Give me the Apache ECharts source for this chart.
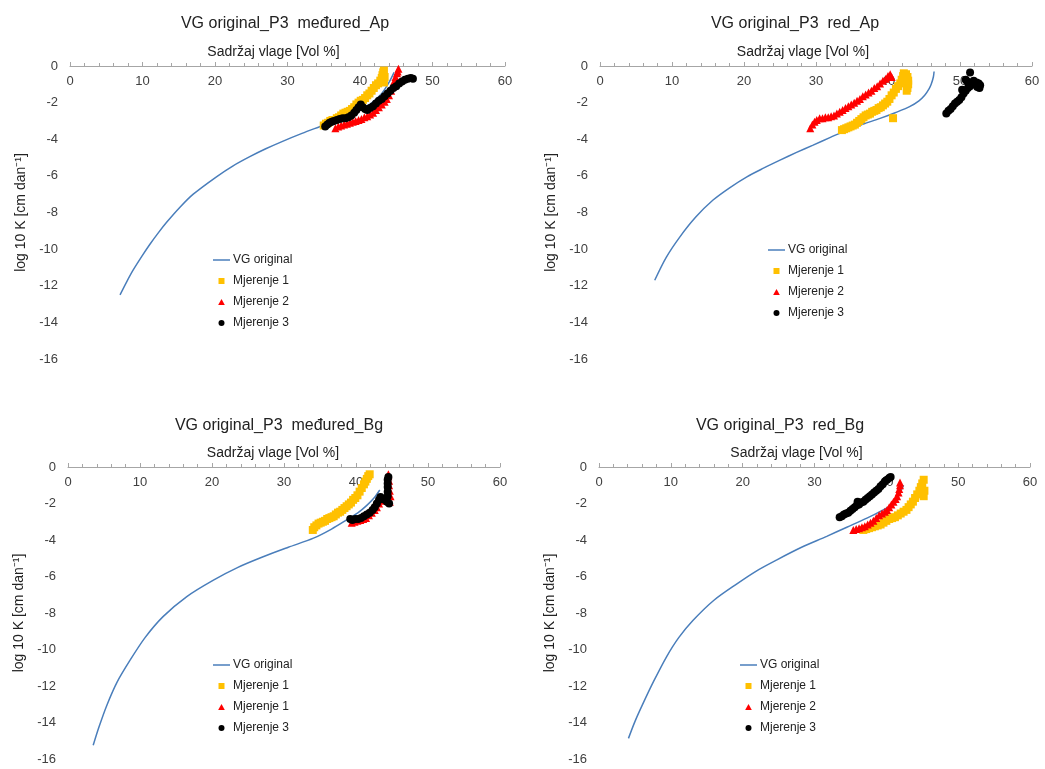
<!DOCTYPE html>
<html>
<head>
<meta charset="utf-8">
<script src="https://cdn.jsdelivr.net/npm/echarts@6/dist/echarts.min.js"></script>
<style>html,body{margin:0;padding:0;background:#fff;}#c{width:1045px;height:769px;}</style>
</head>
<body>
<div id="c"></div>
<script>
// ---- axis ranges / ticks ----
const xMin = 0, xMax = 60, xStep = 10;
const yMin = -16, yMax = 0, yStep = 2;

// ---- titles ----
const panelTitles = ['VG original_P3  međured_Ap', 'VG original_P3  red_Ap', 'VG original_P3  međured_Bg', 'VG original_P3  red_Bg'];
const xName = 'Sadržaj vlage [Vol %]';
const yName = 'log 10 K [cm dan⁻¹]';
const legendLabels = [
  ['VG original', 'Mjerenje 1', 'Mjerenje 2', 'Mjerenje 3'],
  ['VG original', 'Mjerenje 1', 'Mjerenje 2', 'Mjerenje 3'],
  ['VG original', 'Mjerenje 1', 'Mjerenje 1', 'Mjerenje 3'],
  ['VG original', 'Mjerenje 1', 'Mjerenje 2', 'Mjerenje 3']
];

// ---- Panel A: međured_Ap ----
const vgA = [[6.9,-12.5],[7.8,-11.8],[8.7,-11.15],[9.9,-10.4],[11.0,-9.75],[12.2,-9.1],[13.3,-8.55],[15.2,-7.7],[17.0,-7.0],[20.2,-6.05],[22.5,-5.45],[24.8,-4.95],[27.0,-4.52],[29.4,-4.1],[32.0,-3.68],[34.5,-3.3],[37.0,-2.92],[39.5,-2.5],[41.5,-2.05],[43.0,-1.5],[44.0,-0.9],[44.7,-0.35]];
const mA1 = [[35.0,-3.25],[35.3,-3.15],[35.6,-3.1],[35.9,-3.0],[36.2,-2.95],[36.5,-2.95],[36.8,-2.85],[37.1,-2.8],[37.4,-2.7],[37.7,-2.6],[38.0,-2.55],[38.3,-2.5],[38.6,-2.45],[38.9,-2.35],[39.2,-2.25],[39.5,-2.1],[39.8,-2.0],[40.1,-1.9],[40.4,-1.85],[40.7,-1.75],[41.0,-1.6],[41.3,-1.5],[41.6,-1.35],[41.9,-1.2],[42.2,-1.05],[42.5,-0.95],[42.8,-0.8],[43.0,-0.65],[43.1,-0.5],[43.2,-0.35],[43.3,-0.25],[43.4,-0.6],[43.3,-0.9]];
const mA2 = [[36.6,-3.4],[37.0,-3.3],[37.4,-3.25],[37.8,-3.2],[38.2,-3.15],[38.6,-3.1],[39.0,-3.05],[39.4,-3.0],[39.8,-2.95],[40.2,-2.9],[40.6,-2.8],[41.0,-2.75],[41.4,-2.65],[41.8,-2.55],[42.2,-2.4],[42.6,-2.25],[43.0,-2.1],[43.4,-1.95],[43.7,-1.8],[44.0,-1.6],[44.3,-1.35],[44.5,-1.1],[44.7,-0.85],[44.9,-0.6],[45.1,-0.4],[45.3,-0.15],[45.2,-0.3]];
const mA3 = [[35.2,-3.3],[35.5,-3.2],[35.8,-3.1],[36.1,-3.05],[36.4,-3.0],[36.8,-2.95],[37.2,-2.9],[37.6,-2.85],[38.0,-2.85],[38.4,-2.8],[38.8,-2.7],[39.2,-2.55],[39.5,-2.4],[39.8,-2.25],[40.1,-2.1],[40.4,-2.25],[40.7,-2.35],[41.0,-2.4],[41.4,-2.3],[41.8,-2.2],[42.2,-2.05],[42.6,-1.9],[43.0,-1.8],[43.4,-1.65],[43.8,-1.5],[44.2,-1.35],[44.6,-1.2],[45.0,-1.1],[45.4,-0.95],[45.8,-0.85],[46.2,-0.75],[46.6,-0.7],[47.0,-0.65],[47.3,-0.7]];

// ---- Panel B: red_Ap ----
const vgB = [[7.6,-11.7],[9.2,-10.45],[11.1,-9.33],[13.3,-8.25],[15.7,-7.32],[18.0,-6.65],[20.4,-6.05],[22.7,-5.58],[25.0,-5.14],[27.3,-4.72],[29.6,-4.32],[32.0,-3.9],[34.3,-3.5],[36.6,-3.17],[38.9,-2.86],[41.0,-2.55],[43.0,-2.22],[44.3,-1.9],[45.1,-1.6],[45.7,-1.25],[46.0,-1.0],[46.3,-0.6],[46.4,-0.3]];
const mB1 = [[33.6,-3.5],[33.9,-3.45],[34.2,-3.4],[34.5,-3.35],[34.8,-3.3],[35.1,-3.25],[35.4,-3.2],[35.7,-3.1],[36.0,-3.0],[36.3,-2.9],[36.6,-2.8],[36.9,-2.7],[37.2,-2.65],[37.5,-2.6],[37.8,-2.5],[38.1,-2.45],[38.4,-2.4],[38.7,-2.3],[39.0,-2.25],[39.3,-2.15],[39.6,-2.05],[39.9,-1.95],[40.2,-1.8],[40.5,-1.6],[40.8,-1.45],[41.1,-1.25],[41.4,-1.1],[41.7,-0.95],[41.9,-0.75],[42.1,-0.55],[42.2,-0.4],[42.5,-0.45],[42.7,-0.6],[42.8,-0.8],[42.8,-1.0],[42.7,-1.2],[42.6,-1.35],[40.7,-2.85]];
const mB2 = [[29.2,-3.4],[29.5,-3.2],[29.8,-3.05],[30.1,-2.95],[30.5,-2.85],[30.9,-2.85],[31.3,-2.8],[31.7,-2.8],[32.1,-2.75],[32.5,-2.7],[32.9,-2.6],[33.3,-2.5],[33.7,-2.4],[34.1,-2.3],[34.5,-2.2],[34.9,-2.1],[35.3,-2.0],[35.7,-1.9],[36.1,-1.8],[36.5,-1.65],[36.9,-1.55],[37.3,-1.45],[37.7,-1.35],[38.1,-1.2],[38.5,-1.1],[38.9,-0.95],[39.3,-0.8],[39.7,-0.7],[40.0,-0.55],[40.3,-0.45],[40.5,-0.6]];
const mB3 = [[48.1,-2.6],[48.4,-2.45],[48.7,-2.35],[49.0,-2.2],[49.3,-2.05],[49.6,-1.95],[49.9,-1.85],[50.2,-1.7],[50.5,-1.5],[50.8,-1.35],[51.1,-1.2],[51.4,-1.1],[51.7,-1.0],[52.0,-0.95],[52.3,-0.9],[52.6,-0.95],[52.8,-1.05],[52.7,-1.2],[52.4,-1.15],[51.0,-0.85],[50.8,-0.75],[51.4,-0.35],[51.9,-0.8],[50.3,-1.3]];

// ---- Panel C: međured_Bg ----
const vgC = [[3.5,-15.25],[4.3,-14.25],[5.4,-13.05],[6.8,-11.8],[8.6,-10.6],[10.7,-9.35],[13.2,-8.2],[16.5,-7.1],[20.2,-6.2],[23.6,-5.5],[27.1,-4.92],[30.6,-4.4],[34.1,-3.9],[36.6,-3.4],[38.7,-2.9],[40.3,-2.5],[41.5,-2.1],[42.5,-1.7],[43.3,-1.26]];
const mC1 = [[34.0,-3.45],[34.2,-3.3],[34.5,-3.2],[34.8,-3.1],[35.1,-3.05],[35.4,-3.0],[35.7,-2.95],[36.0,-2.85],[36.3,-2.8],[36.6,-2.75],[36.9,-2.7],[37.2,-2.6],[37.5,-2.5],[37.8,-2.45],[38.1,-2.35],[38.4,-2.25],[38.7,-2.15],[39.0,-2.05],[39.3,-1.95],[39.6,-1.8],[39.9,-1.7],[40.2,-1.55],[40.5,-1.35],[40.8,-1.15],[41.1,-0.95],[41.3,-0.8],[41.5,-0.65],[41.7,-0.5],[41.9,-0.4]];
const mC2 = [[39.4,-3.05],[39.8,-3.0],[40.2,-2.95],[40.6,-2.9],[41.0,-2.85],[41.4,-2.8],[41.8,-2.65],[42.2,-2.5],[42.6,-2.35],[42.9,-2.2],[43.2,-2.0],[43.5,-1.85],[43.8,-1.75],[44.1,-1.8],[44.4,-1.85],[44.7,-1.9],[44.8,-1.6],[44.7,-1.3],[44.6,-1.0],[44.6,-0.75],[44.5,-0.5],[44.5,-0.4]];
const mC3 = [[39.2,-2.85],[39.5,-2.9],[39.9,-2.85],[40.3,-2.85],[40.7,-2.8],[41.1,-2.7],[41.5,-2.6],[41.9,-2.5],[42.3,-2.35],[42.6,-2.2],[42.9,-2.0],[43.2,-1.8],[43.4,-1.65],[43.7,-1.75],[44.0,-1.8],[44.3,-1.9],[44.6,-2.0],[44.4,-1.6],[44.4,-1.35],[44.4,-1.1],[44.4,-0.9],[44.4,-0.7],[44.5,-0.55]];

// ---- Panel D: red_Bg ----
const vgD = [[4.1,-14.87],[5.0,-13.95],[6.2,-12.9],[7.6,-11.75],[9.4,-10.4],[11.1,-9.35],[13.1,-8.4],[16.0,-7.3],[19.2,-6.4],[21.9,-5.7],[24.7,-5.1],[28.2,-4.4],[31.7,-3.8],[34.5,-3.3],[37.3,-2.8],[39.3,-2.4],[41.0,-2.0],[41.8,-1.5],[42.4,-1.0]];
const mD1 = [[36.8,-3.45],[37.2,-3.4],[37.6,-3.35],[38.0,-3.3],[38.4,-3.25],[38.8,-3.2],[39.2,-3.15],[39.6,-3.05],[40.0,-2.95],[40.4,-2.85],[40.8,-2.8],[41.2,-2.75],[41.6,-2.65],[42.0,-2.55],[42.4,-2.45],[42.8,-2.35],[43.1,-2.2],[43.4,-2.05],[43.7,-1.9],[44.0,-1.7],[44.3,-1.5],[44.6,-1.3],[44.8,-1.1],[45.0,-0.9],[45.2,-0.7],[45.3,-1.3],[45.2,-1.6]];
const mD2 = [[35.4,-3.45],[35.8,-3.4],[36.2,-3.35],[36.6,-3.3],[37.0,-3.25],[37.4,-3.15],[37.8,-3.05],[38.2,-2.95],[38.6,-2.8],[39.0,-2.65],[39.4,-2.55],[39.8,-2.45],[40.1,-2.35],[40.4,-2.2],[40.7,-2.05],[41.0,-1.9],[41.3,-1.75],[41.5,-1.6],[41.7,-1.4],[41.8,-1.2],[41.9,-1.0],[41.9,-0.85]];
const mD3 = [[33.5,-2.75],[33.8,-2.7],[34.1,-2.6],[34.4,-2.55],[34.7,-2.5],[35.0,-2.4],[35.3,-2.3],[35.6,-2.2],[35.9,-2.1],[36.2,-2.05],[36.5,-1.95],[36.8,-1.9],[37.1,-1.8],[37.4,-1.7],[37.7,-1.6],[38.0,-1.5],[38.3,-1.4],[38.6,-1.3],[38.9,-1.2],[39.2,-1.05],[39.5,-0.95],[39.8,-0.8],[40.1,-0.7],[40.4,-0.6],[40.6,-0.55],[36.0,-1.9]];

// ---- build ----
const panels = [
  {vg: vgA, m: [mA1, mA2, mA3]},
  {vg: vgB, m: [mB1, mB2, mB3]},
  {vg: vgC, m: [mC1, mC2, mC3]},
  {vg: vgD, m: [mD1, mD2, mD3]}
];
const grids = [
  {left: 70, top: 66, width: 435, height: 293},
  {left: 600, top: 66, width: 432, height: 293},
  {left: 68, top: 467, width: 432, height: 292},
  {left: 599, top: 467, width: 431, height: 292}
];
const titlePos = [[280, 11], [790, 11], [274, 413], [775, 413]];
const xNamePad = [28, 26, 22, 36];
const legendPos = [[208, 248], [763, 238], [208, 653], [735, 653]];

const COLORS = {vg: '#4A7EBB', m1: '#FFC000', m2: '#FF0000', m3: '#000000'};
const SYMS = ['rect', 'triangle', 'circle'];
const SIZES = [8, 8, 8];
const MCOL = [COLORS.m1, COLORS.m2, COLORS.m3];
const LINE_ICON = 'path://M0,0 H17 V1.5 H0 Z';
const ICONS = ['path://M0,0 H10 V10 H0 Z', 'path://M5,0 L10,9 L0,9 Z', 'path://M5,0 A5,5 0 1,1 5,10 A5,5 0 1,1 5,0 Z'];
const FONT = 'Liberation Sans, Arial, sans-serif';

const nameMap = {};
const series = [], xAxis = [], yAxis = [], title = [], legend = [];
panels.forEach((p, i) => {
  title.push({text: panelTitles[i], left: titlePos[i][0], top: titlePos[i][1], textAlign: 'center',
    textStyle: {fontFamily: FONT, fontSize: 16, fontWeight: 'normal', color: '#222'}});
  xAxis.push({gridIndex: i, type: 'value', position: 'top', min: xMin, max: xMax, interval: xStep,
    name: xName, nameLocation: 'middle', nameGap: 7,
    nameTextStyle: {fontFamily: FONT, fontSize: 14, color: '#222', padding: [0, xNamePad[i], 0, 0]},
    axisLine: {show: true, onZero: false, lineStyle: {color: '#a6a6a6', width: 1}},
    axisTick: {show: true, length: 4, lineStyle: {color: '#a6a6a6'}},
    minorTick: {show: true, splitNumber: 5, length: 3, lineStyle: {color: '#a6a6a6'}},
    axisLabel: {inside: true, margin: 9, fontFamily: FONT, fontSize: 13, color: '#404040'},
    splitLine: {show: false}});
  yAxis.push({gridIndex: i, type: 'value', min: yMin, max: yMax, interval: yStep,
    name: yName, nameLocation: 'middle', nameGap: 42, nameRotate: 90,
    nameTextStyle: {fontFamily: FONT, fontSize: 14, color: '#222'},
    axisLine: {show: false}, axisTick: {show: false},
    axisLabel: {margin: 12, fontFamily: FONT, fontSize: 13, color: '#404040'},
    splitLine: {show: false}});
  const vgName = 'vg' + i;
  nameMap[vgName] = legendLabels[i][0];
  series.push({name: vgName, type: 'line', xAxisIndex: i, yAxisIndex: i, data: p.vg, smooth: 0.3,
    symbol: 'none', lineStyle: {color: COLORS.vg, width: 1.5}, itemStyle: {color: COLORS.vg}, z: 1});
  const ldata = [{name: vgName, icon: LINE_ICON, itemStyle: {color: COLORS.vg}}];
  p.m.forEach((arr, k) => {
    const nm = 'm' + i + '_' + k;
    nameMap[nm] = legendLabels[i][k + 1];
    series.push({name: nm, type: 'scatter', xAxisIndex: i, yAxisIndex: i, data: arr,
      symbol: SYMS[k], symbolSize: SIZES[k], itemStyle: {color: MCOL[k], opacity: 1}, z: 2 + k});
    ldata.push({name: nm, icon: ICONS[k], itemStyle: {color: MCOL[k]}});
  });
  legend.push({orient: 'vertical', left: legendPos[i][0], top: legendPos[i][1], data: ldata,
    itemWidth: 17, itemHeight: 6, itemGap: 7, selectedMode: false,
    formatter: (n) => nameMap[n],
    textStyle: {fontFamily: FONT, fontSize: 12, color: '#222', lineHeight: 14, padding: [0, 0, 0, -2]}});
});

const chart = echarts.init(document.getElementById('c'), null, {renderer: 'canvas'});
chart.setOption({
  animation: false,
  backgroundColor: '#ffffff',
  title, legend, grid: grids, xAxis, yAxis, series
});
</script>
</body>
</html>
